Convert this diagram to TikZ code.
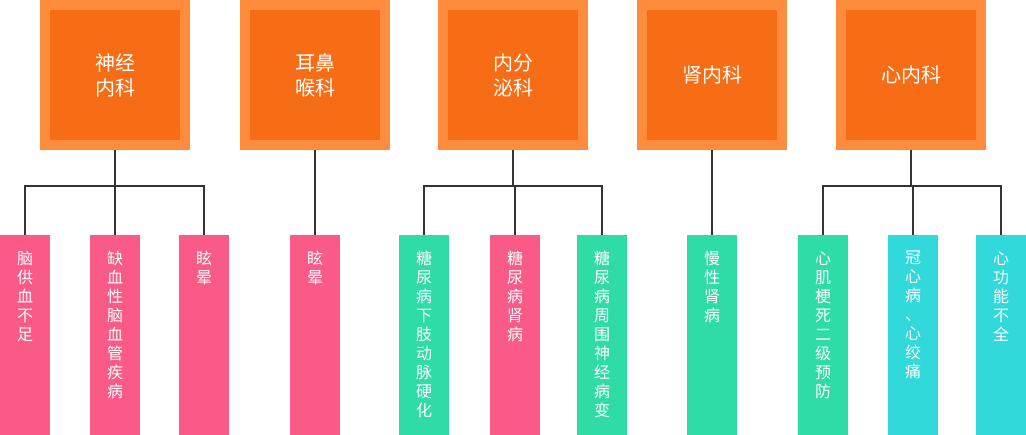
\documentclass[tikz,border=0pt]{standalone}
\usepackage{fontspec}
\setmainfont{Noto Sans CJK SC}
\definecolor{outerO}{HTML}{FF8C3C}
\definecolor{innerO}{HTML}{F76D15}
\definecolor{pinkB}{HTML}{FA5A86}
\definecolor{greenB}{HTML}{2FDBA6}
\definecolor{cyanB}{HTML}{31D9DB}
\definecolor{lineC}{HTML}{333333}
\tikzset{
  x=1pt,y=-1pt,
  topbox/.style={draw=outerO,line width=10pt,fill=innerO,minimum width=140pt,minimum height=140pt,text=white,font=\fontsize{20}{25}\selectfont,align=center,inner sep=0pt},
  bar/.style={minimum width=50pt,minimum height=200pt,anchor=north,inner sep=0pt},
  bartext/.style={anchor=north,text=white,font=\fontsize{16}{19}\selectfont,align=center,inner sep=0pt},
  conn/.style={draw=lineC,line width=1.2pt}
}
\newcommand{\mkbar}[4]{%
  \node[bar,fill=#2] (#1) at (#3,235) {};
  \node[bartext] (#1t) at (#3,251) {#4};}
\begin{document}
\begin{tikzpicture}
\useasboundingbox (0,0) rectangle (1026,435);
\node[topbox] (A) at (115,75) {神经\\内科};
\node[topbox] (B) at (315,75) {耳鼻\\喉科};
\node[topbox] (C) at (513,75) {内分\\泌科};
\node[topbox] (D) at (712,75) {肾内科};
\node[topbox] (E) at (911,75) {心内科};
\mkbar{a1}{pinkB}{25}{脑\\供\\血\\不\\足}
\mkbar{a2}{pinkB}{115}{缺\\血\\性\\脑\\血\\管\\疾\\病}
\mkbar{a3}{pinkB}{204}{眩\\晕}
\mkbar{b1}{pinkB}{315}{眩\\晕}
\mkbar{c1}{greenB}{424}{糖\\尿\\病\\下\\肢\\动\\脉\\硬\\化}
\mkbar{c2}{pinkB}{515}{糖\\尿\\病\\肾\\病}
\mkbar{c3}{greenB}{602}{糖\\尿\\病\\周\\围\\神\\经\\病\\变}
\mkbar{d1}{greenB}{712}{慢\\性\\肾\\病}
\mkbar{e1}{greenB}{823}{心\\肌\\梗\\死\\二\\级\\预\\防}
\mkbar{e2}{cyanB}{913}{冠\\心\\病\\、\\心\\绞\\痛}
\mkbar{e3}{cyanB}{1001}{心\\功\\能\\不\\全}
\foreach \p/\cs in {A/{a1,a2,a3},C/{c1,c2,c3},E/{e1,e2,e3}}{
  \foreach \c in \cs {\draw[conn] (\p.south) -- ++(0,36) -| (\c.north);}
}
\draw[conn] (B.south) -- (b1.north);
\draw[conn] (D.south) -- (d1.north);
\end{tikzpicture}
\end{document}
